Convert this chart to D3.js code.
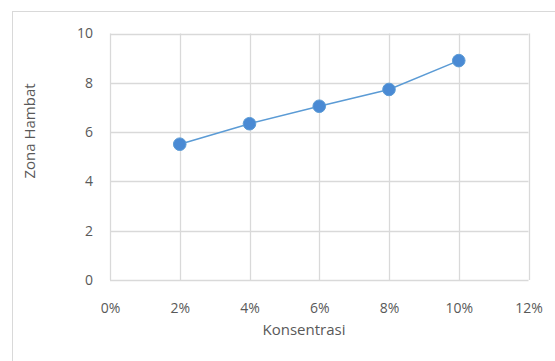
<!DOCTYPE html>
<html><head><meta charset="utf-8">
<script src="https://cdn.jsdelivr.net/npm/d3@7"></script>
<style>
html,body{margin:0;padding:0;background:#fff;}
svg{display:block;}
text{font-family:"Open Sans","Segoe UI",sans-serif;fill:#595959;}
</style></head><body>
<svg id="c" width="555" height="361"></svg>
<script>
const concentrations = [0.02, 0.04, 0.06, 0.08, 0.10];
const zonaHambat = [5.51, 6.34, 7.05, 7.73, 8.90];
const xTicks = [0, 0.02, 0.04, 0.06, 0.08, 0.10, 0.12];
const yTicks = [0, 2, 4, 6, 8, 10];
const xTitle = "Konsentrasi";
const yTitle = "Zona Hambat";

const svg = d3.select("#c");
// outer chart frame
svg.append("rect").attr("x",12.5).attr("y",11.5).attr("width",600).attr("height",400)
  .attr("fill","#fff").attr("stroke","#d9d9d9").attr("stroke-width",1);

const L=110, R=528.5, T=33.5, B=280;
const x = d3.scaleLinear().domain([0,0.12]).range([L,R]);
const y = d3.scaleLinear().domain([0,10]).range([B,T]);

const g = svg.append("g");
g.selectAll(".vg").data(xTicks).join("line")
  .attr("x1",d=>Math.round(x(d))+0.5).attr("x2",d=>Math.round(x(d))+0.5)
  .attr("y1",T).attr("y2",B).attr("stroke","#d9d9d9").attr("stroke-width",1.3);
g.selectAll(".hg").data(yTicks).join("line")
  .attr("y1",d=>Math.round(y(d))+0.5).attr("y2",d=>Math.round(y(d))+0.5)
  .attr("x1",L).attr("x2",R).attr("stroke","#d9d9d9").attr("stroke-width",1.3);

const fs = 14;
const xAxis = d3.axisBottom(x).tickValues(xTicks).tickFormat(d=>Math.round(d*100)+"%").tickSize(0).tickPadding(0);
const gx = svg.append("g").attr("transform",`translate(0,${B+23})`).call(xAxis);
gx.select(".domain").remove();
gx.selectAll("text").attr("font-size",fs).attr("dy","0.71em").style("font-family",'"Open Sans",sans-serif').attr("fill","#595959");

const yAxis = d3.axisLeft(y).tickValues(yTicks).tickSize(0).tickPadding(0);
const gy = svg.append("g").attr("transform",`translate(${L-17},0)`).call(yAxis);
gy.select(".domain").remove();
gy.selectAll("text").attr("font-size",fs).style("font-family",'"Open Sans",sans-serif').attr("fill","#595959");

svg.append("text").attr("x",304).attr("y",335).attr("text-anchor","middle")
  .attr("font-size",15).text(xTitle);
svg.append("text").attr("transform",`translate(35,131) rotate(-90)`).attr("text-anchor","middle")
  .attr("font-size",15).text(yTitle);

const pts = concentrations.map((c,i)=>[c,zonaHambat[i]]);
svg.append("path").datum(pts)
  .attr("d",d3.line().x(d=>x(d[0])).y(d=>y(d[1])))
  .attr("fill","none").attr("stroke","#5b9bd5").attr("stroke-width",1.5);
svg.selectAll(".pt").data(pts).join("circle")
  .attr("cx",d=>x(d[0])).attr("cy",d=>y(d[1])).attr("r",6.3)
  .attr("fill","#4a8ad4").attr("stroke","#5b9bd5").attr("stroke-width",1);
</script>
</body></html>
